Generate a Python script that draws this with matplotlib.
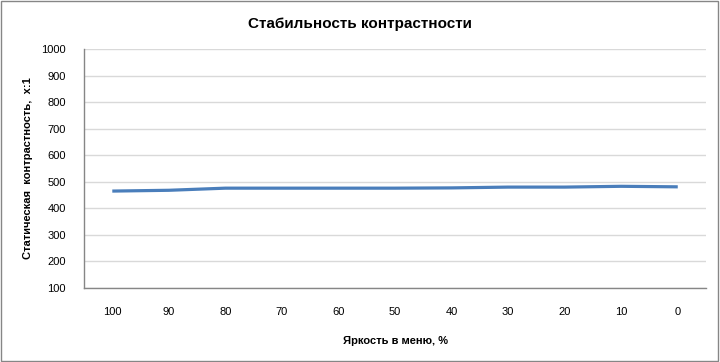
import matplotlib
matplotlib.use("Agg")
import matplotlib.pyplot as plt
from matplotlib.patches import Rectangle

# brightness in menu (%) and static contrast (x:1)
brightness = ["100", "90", "80", "70", "60", "50", "40", "30", "20", "10", "0"]
contrast = [465, 468, 476, 476, 476, 476, 477, 480, 480, 483, 481]
y_ticks = list(range(100, 1001, 100))

plt.rcParams["font.family"] = ["Liberation Sans", "DejaVu Sans"]

fig = plt.figure(figsize=(7.2, 3.62), dpi=100)
ax = fig.add_axes([0.1167, 0.2044, 0.8639, 0.6602])

x = range(len(brightness))
ax.plot(x, contrast, color="#4a7ebb", lw=2.3, solid_capstyle="butt")

ax.set_xlim(-0.5, len(brightness) - 0.5)
ax.set_ylim(100, 1000)
ax.set_yticks(y_ticks)
ax.set_xticks(list(x))
ax.set_xticklabels(brightness)
ax.tick_params(length=0, labelsize=8, colors="black")
ax.tick_params(axis="x", pad=14)
ax.tick_params(axis="y", pad=13)
ax.yaxis.grid(True, color="#d9d9d9", lw=1)
ax.set_axisbelow(True)
for s in ["top", "right"]:
    ax.spines[s].set_visible(False)
for s in ["left", "bottom"]:
    ax.spines[s].set_color("#868686")
    ax.spines[s].set_linewidth(1)

ax.set_xlabel("Яркость в меню, %", fontsize=8, fontweight="bold", labelpad=13)
ax.set_ylabel("Статическая  контрастность,  х:1", fontsize=8, fontweight="bold", labelpad=6)
fig.text(0.5, 0.935, "Стабильность контрастности", ha="center", va="center",
         fontsize=11, fontweight="bold")

# outer chart border
fig.patches.append(Rectangle((0.002, 0.003), 0.995, 0.993, transform=fig.transFigure,
                             fill=False, edgecolor="#868686", lw=1))

fig.savefig("out.png", dpi=100)
